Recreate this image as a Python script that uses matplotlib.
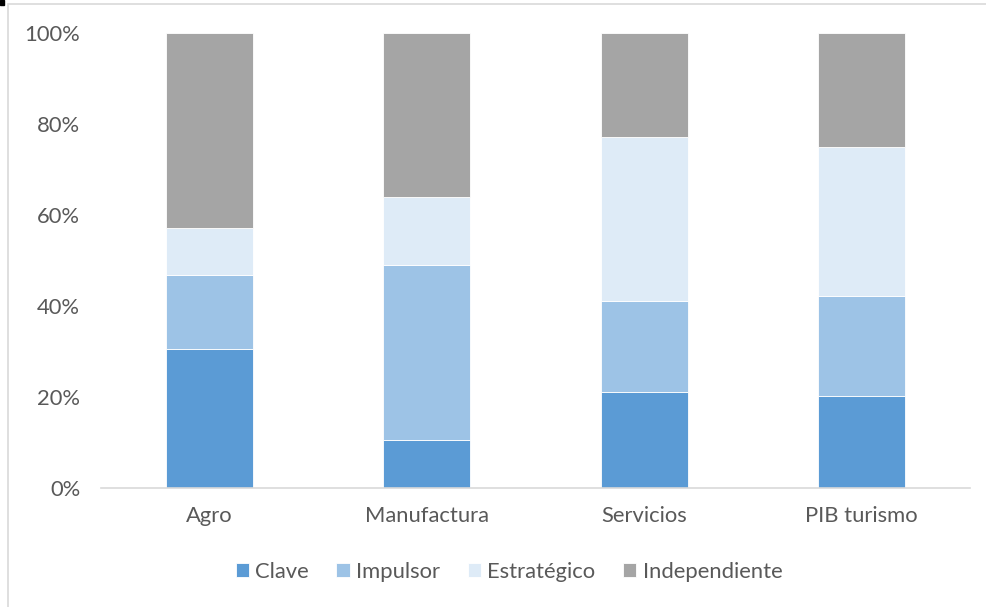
import numpy as np
import matplotlib.pyplot as plt
from matplotlib.patches import Rectangle
from matplotlib.ticker import FuncFormatter

# --- Datos ---
categorias = ['Agro', 'Manufactura', 'Servicios', 'PIB turismo']
clave = [30.5, 10.5, 21.1, 20.2]
impulsor = [16.3, 38.5, 20.0, 22.0]
estrategico = [10.3, 15.0, 36.0, 32.7]
independiente = [42.9, 36.0, 22.9, 25.1]

series = ['Clave', 'Impulsor', 'Estratégico', 'Independiente']
colores = ['#5B9BD5', '#9DC3E6', '#DEEBF7', '#A5A5A5']

plt.rcParams['font.family'] = ['Lato', 'DejaVu Sans']

fig = plt.figure(figsize=(9.87, 6.07), dpi=100)
ax = fig.add_axes([101 / 987, 1 - 488 / 607, 869 / 987, 455 / 607])

x = np.arange(len(categorias))
base = np.zeros(len(categorias))
for nombre, vals, col in zip(series, [clave, impulsor, estrategico, independiente], colores):
    ax.bar(x, vals, bottom=base, width=0.4, color=col, label=nombre,
           edgecolor='white', linewidth=0.6)
    base += np.array(vals)

ax.set_xlim(-0.5, 3.5)
ax.set_ylim(0, 100)
ax.set_yticks(np.arange(0, 101, 20))
ax.yaxis.set_major_formatter(FuncFormatter(lambda v, p: f'{v:.0f}%'))
ax.set_xticks(x)
ax.set_xticklabels(categorias)

for s in ['top', 'right', 'left']:
    ax.spines[s].set_visible(False)
ax.spines['bottom'].set_color('#D9D9D9')
ax.spines['bottom'].set_linewidth(1.2)
ax.tick_params(axis='both', length=0, labelsize=15.8, labelcolor='#595959')
ax.tick_params(axis='y', pad=15)
ax.tick_params(axis='x', pad=13)

ax.legend(loc='center', bbox_to_anchor=(509 / 987, 1 - 572 / 607),
          bbox_transform=fig.transFigure, ncol=4, frameon=False,
          fontsize=15.8, labelcolor='#595959', handlelength=0.6, handleheight=0.6,
          handletextpad=0.3, columnspacing=1.25)

# marco del gráfico
fig.add_artist(Rectangle((8 / 987, -0.01), 1.0, 1 - 4 / 607 + 0.01,
                         transform=fig.transFigure, fill=False,
                         edgecolor='#D9D9D9', linewidth=1.2))
fig.add_artist(Rectangle((0, 1 - 5 / 607), 4 / 987, 5 / 607,
                         transform=fig.transFigure, color='black'))

fig.savefig('out.png', dpi=100)
